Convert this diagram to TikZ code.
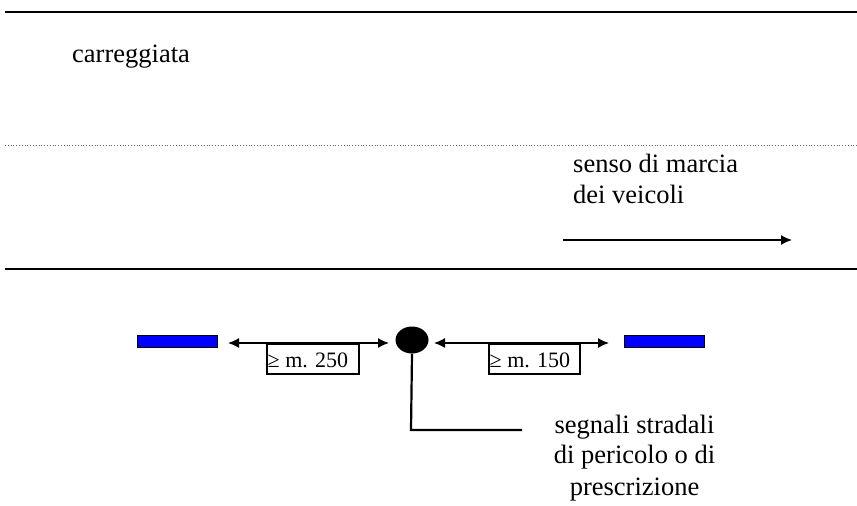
\documentclass[tikz,border=0pt]{standalone}
\usepackage{fontspec}
\setmainfont{Liberation Serif}
\usetikzlibrary{arrows.meta,shapes.geometric}
\begin{document}
\begin{tikzpicture}[x=1pt,y=-1pt,
  road/.style={line width=2.8pt},
  lab/.style={font=\fontsize{26.5}{31}\selectfont, inner sep=0pt},
  distbox/.style={draw, line width=1.5pt, fill=white, minimum height=30pt, inner sep=0pt, anchor=north west},
  distlab/.style={font=\fontsize{22}{24}\selectfont, inner sep=0pt, anchor=base west},
  sign/.style={draw, line width=1.5pt, fill=blue, minimum width=80pt, minimum height=12pt, inner sep=0pt},
  arr/.style={line width=1.5pt, -{Latex[length=11pt,width=10pt]}},
  darr/.style={line width=1.5pt, {Latex[length=11pt,width=10pt]}-{Latex[length=11pt,width=10pt]}}
]
\useasboundingbox (0,0) rectangle (857,506);
% road edges
\coordinate (tl) at (5,12); \coordinate (tr) at (857,12);
\coordinate (ml) at (5,145); \coordinate (mr) at (857,145);
\coordinate (bl) at (5,269); \coordinate (br) at (857,269);
\draw[road] (tl) -- (tr);
\draw[line width=0.8pt, dotted, gray!80!black] (ml) -- (mr);
\draw[road] (bl) -- (br);
% labels
\node[lab, anchor=base west] (carr) at (72,62) {carreggiata};
\node[lab, anchor=base west] (senso1) at (573,172) {senso di marcia};
\node[lab, anchor=base west] (senso2) at (573,203) {dei veicoli};
\coordinate (a1) at (563,240); \coordinate (a2) at (792,240);
\draw[arr] (a1) -- (a2);
% signs
\node[sign] (sL) at (177.5,341.5) {};
\node[sign] (sR) at (664.5,341.5) {};
\node[ellipse, fill=black, minimum width=33pt, minimum height=27pt, inner sep=0pt] (pole) at (412,340) {};
% distance arrows
\coordinate (d1) at (228,343); \coordinate (d2) at (389,343);
\coordinate (d3) at (434,343); \coordinate (d4) at (609,343);
\draw[darr] (d1) -- (d2);
\draw[darr] (d3) -- (d4);
\node[distbox, minimum width=92pt] (b250) at (266,343) {};
\node[distbox, minimum width=91pt] (b150) at (488,343) {};
\node[distlab] (t250) at (267.5,367) {≥ m. 250};
\node[distlab] (t150) at (489.5,367) {≥ m. 150};
% leader
\coordinate (corner) at (411,430); \coordinate (lend) at (522,430);
\draw[line width=2.2pt] (pole.south) -- (corner) -- (lend);
\node[lab, anchor=base] (seg1) at (634.5,433) {segnali stradali};
\node[lab, anchor=base] (seg2) at (634.5,463) {di pericolo o di};
\node[lab, anchor=base] (seg3) at (634.5,495) {prescrizione};
\end{tikzpicture}
\end{document}
